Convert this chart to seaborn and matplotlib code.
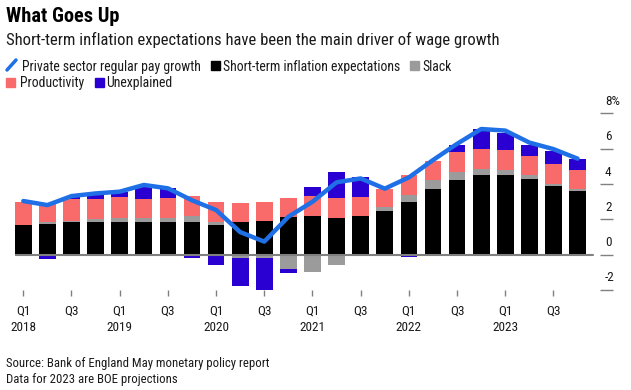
import numpy as np
import matplotlib
matplotlib.use("Agg")
import matplotlib.pyplot as plt
import seaborn as sns
from matplotlib import font_manager as fm
from matplotlib.patches import Rectangle
from matplotlib.lines import Line2D

# ---------------- data ----------------
quarters = ["2018Q1", "2018Q2", "2018Q3", "2018Q4",
            "2019Q1", "2019Q2", "2019Q3", "2019Q4",
            "2020Q1", "2020Q2", "2020Q3", "2020Q4",
            "2021Q1", "2021Q2", "2021Q3", "2021Q4",
            "2022Q1", "2022Q2", "2022Q3", "2022Q4",
            "2023Q1", "2023Q2", "2023Q3", "2023Q4"]
tick_labels = ["Q1\n2018", "Q3", "Q1\n2019", "Q3", "Q1\n2020", "Q3",
               "Q1\n2021", "Q3", "Q1\n2022", "Q3", "Q1\n2023", "Q3"]
pay_growth = [3.04, 2.81, 3.32, 3.47, 3.57, 3.95, 3.76, 3.08,
              2.53, 1.28, 0.74, 2.15, 3.00, 4.10, 4.32, 3.74,
              4.38, 5.36, 6.28, 7.12, 7.03, 6.35, 5.98, 5.44]
inflation_exp = [1.68, 1.72, 1.83, 1.83, 1.83, 1.83, 1.83, 1.83,
                 1.68, 1.83, 1.93, 2.12, 2.19, 2.10, 2.19, 2.49,
                 3.00, 3.70, 4.21, 4.49, 4.49, 4.31, 3.91, 3.61]
slack = [0.00, 0.11, 0.10, 0.17, 0.27, 0.27, 0.27, 0.38,
         0.19, -0.17, -0.17, -0.83, -0.96, -0.59, -0.05, 0.19,
         0.38, 0.51, 0.49, 0.38, 0.31, 0.18, 0.07, 0.09]
productivity = [1.32, 1.08, 1.20, 1.13, 1.15, 1.03, 1.13, 1.11,
                1.13, 1.08, 1.07, 1.07, 1.13, 1.13, 1.10, 1.06,
                1.13, 1.10, 1.10, 1.12, 1.11, 1.12, 1.14, 1.12]
unexplained = [0.00, -0.26, 0.16, 0.25, 0.32, 0.76, 0.53, -0.17,
               -0.59, -1.61, -2.08, -0.23, 0.49, 1.47, 1.09, -0.08,
               -0.15, 0.00, 0.41, 1.11, 1.00, 0.58, 0.77, 0.58]
y_ticks = [-2, 0, 2, 4, 6, 8]
y_tick_labels = ["-2", "0", "2", "4", "6", "8%"]

# ---------------- style ----------------
sns.set_theme(style="white")
names = {f.name for f in fm.fontManager.ttflist}
base_font = "Liberation Sans"
for cand in ["Liberation Sans Narrow", "Arial Narrow", "Roboto Condensed",
             "Archivo Narrow"]:
    if cand in names:
        base_font = cand
        break
plt.rcParams["font.family"] = [base_font, "DejaVu Sans"]

C_LINE = "#1f6fe6"
C_INFL = "#000000"
C_SLACK = "#9b9b9b"
C_PROD = "#f96a6a"
C_UNEX = "#2a00d2"
C_AXIS = "#808080"
C_TEXT = "#1a1a1a"

W, H = 631, 390
fig = plt.figure(figsize=(W / 100, H / 100), dpi=100)
renderer = fig.canvas.get_renderer()


def fx(px):
    return px / W


def fy(py):
    return 1 - py / H


def size_for(s, target_px, weight="normal"):
    t = fig.text(0, 0, s, fontsize=10, fontweight=weight)
    w = t.get_window_extent(renderer).width
    t.remove()
    return 10 * target_px / w


# ---------------- axes ----------------
ax = fig.add_axes([fx(15), fy(290), fx(600) - fx(15), fy(106.4) - fy(290)])
n = len(quarters)
x = np.arange(n)

pos_base = np.zeros(n)
neg_base = np.zeros(n)
for vals, col in [(inflation_exp, C_INFL), (slack, C_SLACK),
                  (productivity, C_PROD), (unexplained, C_UNEX)]:
    v = np.array(vals, dtype=float)
    p = np.where(v > 0, v, 0.0)
    q = np.where(v < 0, v, 0.0)
    ax.bar(x, p, bottom=pos_base, width=0.69, color=col, linewidth=0, zorder=2)
    ax.bar(x, q, bottom=neg_base, width=0.69, color=col, linewidth=0, zorder=2)
    pos_base += p
    neg_base += q

sns.lineplot(x=x, y=pay_growth, ax=ax, color=C_LINE, linewidth=3.2,
             solid_joinstyle="round", solid_capstyle="round", zorder=4,
             legend=False)

left_lim = -0.344
ax.set_xlim(left_lim, left_lim + 585 / 24.1)
ax.set_ylim(-2, 8.4)
ax.axhline(0, xmin=0, xmax=(593 - 15) / 585, color=C_AXIS, lw=1.5, zorder=3)

for s in ax.spines.values():
    s.set_visible(False)

tick_fs = size_for("2018", 25.7)
ax.set_xticks(x[::2])
ax.set_xticklabels(tick_labels, fontsize=tick_fs, color=C_TEXT, linespacing=1.35)
ax.tick_params(axis="x", direction="out", length=4.3, width=1, color=C_AXIS,
               pad=6, bottom=True)

ax.yaxis.tick_right()
ax.set_yticks(y_ticks)
ax.tick_params(axis="y", direction="out", length=9.4, width=1, color=C_AXIS,
               labelright=False, right=True, left=False)
ytr = ax.get_yaxis_transform()
for v, lab in zip(y_ticks, y_tick_labels):
    ax.text((605 - 15) / 585, v + 0.68, lab, transform=ytr, ha="left",
            va="center", fontsize=tick_fs, color=C_TEXT, clip_on=False)
ax.grid(False)

# ---------------- titles ----------------
title_fs = size_for("What Goes Up", 113, weight="bold")
fig.text(fx(6), fy(21.5), "What Goes Up", fontsize=title_fs, fontweight="bold",
         color="#000000", va="baseline", ha="left")
sub = "Short-term inflation expectations have been the main driver of wage growth"
sub_fs = size_for(sub, 490.7)
fig.text(fx(6), fy(45.5), sub, fontsize=sub_fs, color=C_TEXT,
         va="baseline", ha="left")

# ---------------- legend ----------------
leg_fs = size_for("Private sector regular pay growth", 178)
row1, row2 = 70.7, 87.3


def leg_text(px, base, s):
    fig.text(fx(px), fy(base), s, fontsize=leg_fs, color=C_TEXT,
             va="baseline", ha="left")


def leg_square(px, base, col):
    fig.patches.append(Rectangle((fx(px), fy(base)), 9 / W, 9 / H,
                                 transform=fig.transFigure, color=col,
                                 figure=fig))


fig.lines.append(Line2D([fx(7), fx(16)], [fy(70), fy(60)], color=C_LINE,
                        lw=2.5, transform=fig.transFigure, figure=fig))
leg_text(21.7, row1, "Private sector regular pay growth")
leg_square(211, row1 - 0.5, C_INFL)
leg_text(223.3, row1, "Short-term inflation expectations")
leg_square(410, row1 - 0.5, C_SLACK)
leg_text(422.7, row1, "Slack")
leg_square(6, row2 - 0.5, C_PROD)
leg_text(20, row2, "Productivity")
leg_square(94.5, row2 - 0.5, C_UNEX)
leg_text(106, row2, "Unexplained")

# ---------------- source ----------------
src1 = "Source: Bank of England May monetary policy report"
src_fs = size_for(src1, 262)
fig.text(fx(6), fy(367.3), src1, fontsize=src_fs, color=C_TEXT,
         va="baseline", ha="left")
fig.text(fx(6), fy(382.5), "Data for 2023 are BOE projections", fontsize=src_fs,
         color=C_TEXT, va="baseline", ha="left")

fig.savefig("out.png", dpi=100)
